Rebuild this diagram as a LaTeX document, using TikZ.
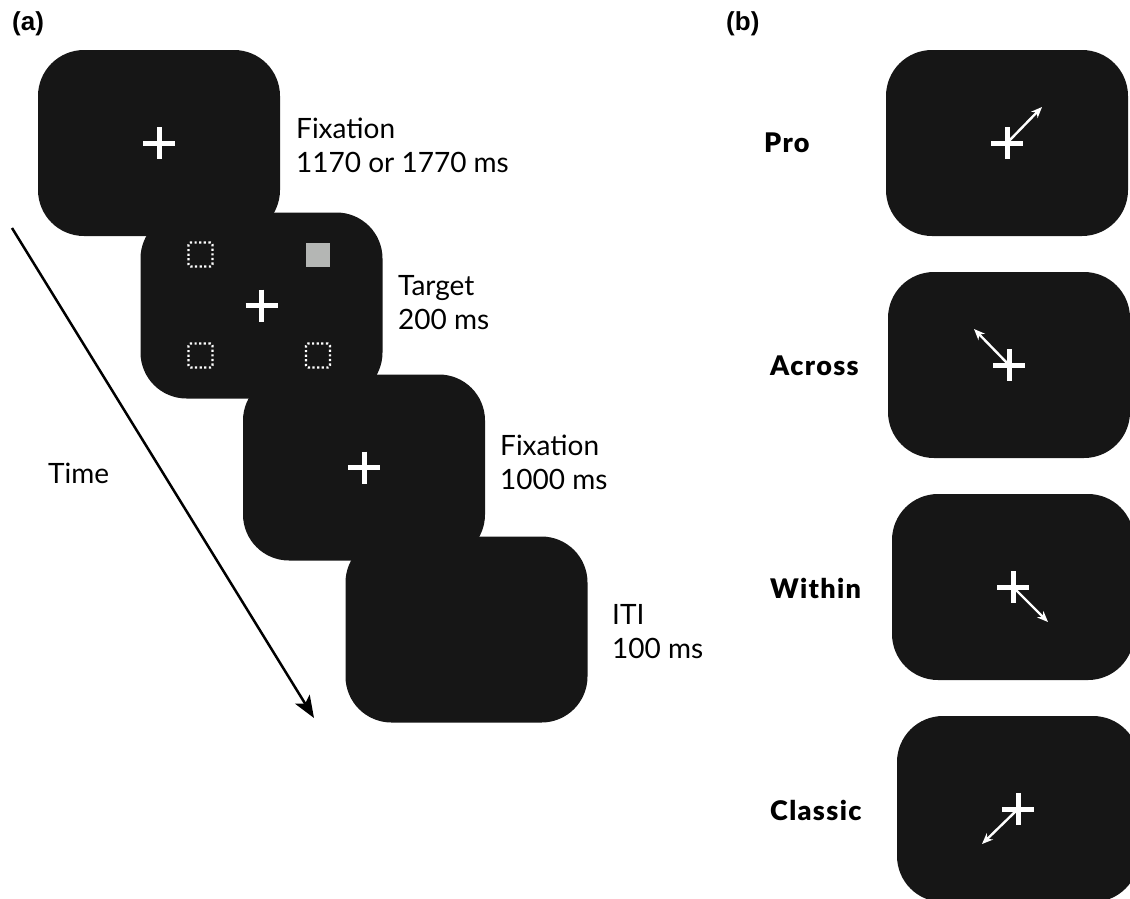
\documentclass[tikz,border=0pt]{standalone}
\usepackage{fontspec}
\setmainfont{Lato}
\newfontfamily\panelfont{Liberation Sans}
\newfontfamily\condfont[LetterSpace=5]{Lato Black}
\usetikzlibrary{arrows.meta}
\definecolor{screenblack}{HTML}{161616}
\definecolor{targetgray}{HTML}{B4B6B4}

\begin{document}
\begin{tikzpicture}[x=1pt, y=-1pt,
  screen/.style={fill=screenblack, rounded corners=46pt, minimum width=242pt, minimum height=186pt, inner sep=0pt},
  crossbar/.style={white, line width=5pt},
  cue/.style={white, line width=2.4pt, -{Stealth[length=11pt, width=9pt]}},
  holder/.style={draw=white, line width=2.2pt, dash pattern=on 2.2pt off 2.4pt, rounded corners=2pt, minimum size=24pt, inner sep=0pt},
  tgtbox/.style={fill=targetgray, minimum size=24pt, inner sep=0pt},
  timeline/.style={line width=2.5pt, -{Stealth[length=22pt, width=17pt, inset=5pt]}},
  txt/.style={anchor=west, align=left, font=\fontsize{28}{34}\selectfont, inner sep=0pt},
  cond/.style={anchor=west, font=\fontsize{27}{34}\selectfont\condfont, inner sep=0pt},
  panel/.style={anchor=west, font=\panelfont\fontsize{26}{28}\selectfont\bfseries, inner sep=0pt}]
\useasboundingbox (0,0) rectangle (1130,898);

% (a) trial sequence
\node[panel] (pa) at (12,24) {(a)};
\node[screen] (s1) at (159,143) {};
\node[screen] (s2) at (261.5,305.5) {};
\node[screen] (s3) at (364,467.5) {};
\node[screen] (s4) at (466.5,629.5) {};
\draw[crossbar] (s1) ++(-16,0) -- ++(32,0) (s1) ++(0,-16) -- ++(0,32);
\draw[crossbar] (s2) ++(-16,0) -- ++(32,0) (s2) ++(0,-16) -- ++(0,32);
\draw[crossbar] (s3) ++(-16,0) -- ++(32,0) (s3) ++(0,-16) -- ++(0,32);
\node[holder] (ph1) at (200.5,254.5) {};
\node[tgtbox] (tg) at (318,254.5) {};
\node[holder] (ph2) at (200.5,355.5) {};
\node[holder] (ph3) at (318,355.5) {};
\node[txt] (l1) at (296,145) {Fixation\\1170 or 1770 ms};
\node[txt] (l2) at (398,303) {Target\\200 ms};
\node[txt] (l3) at (500,462) {Fixation\\1000 ms};
\node[txt] (l4) at (612,632) {ITI\\100 ms};
\coordinate (tstart) at (12,228);
\coordinate (tend) at (314,718);
\draw[timeline] (tstart) -- (tend);
\node[txt] (time) at (48,473) {Time};

% (b) conditions
\node[panel] (pb) at (726,24) {(b)};
\node[screen] (b1) at (1007,143) {};
\node[screen] (b2) at (1009,365) {};
\node[screen] (b3) at (1013,587) {};
\node[screen] (b4) at (1018,809) {};
\draw[crossbar] (b1) ++(-16,0) -- ++(32,0) (b1) ++(0,-16) -- ++(0,32);
\draw[crossbar] (b2) ++(-16,0) -- ++(32,0) (b2) ++(0,-16) -- ++(0,32);
\draw[crossbar] (b3) ++(-16,0) -- ++(32,0) (b3) ++(0,-16) -- ++(0,32);
\draw[crossbar] (b4) ++(-16,0) -- ++(32,0) (b4) ++(0,-16) -- ++(0,32);
\coordinate (c1) at (1042,107);
\coordinate (c2) at (974,329);
\coordinate (c3) at (1048,622);
\coordinate (c4) at (982,844);
\draw[cue] (b1.center) -- (c1);
\draw[cue] (b2.center) -- (c2);
\draw[cue] (b3.center) -- (c3);
\draw[cue] (b4.center) -- (c4);
\node[cond] (pro) at (764,143) {Pro};
\node[cond] (across) at (770,366) {Across};
\node[cond] (within) at (770,588) {Within};
\node[cond] (classic) at (770,810) {Classic};
\end{tikzpicture}
\end{document}
